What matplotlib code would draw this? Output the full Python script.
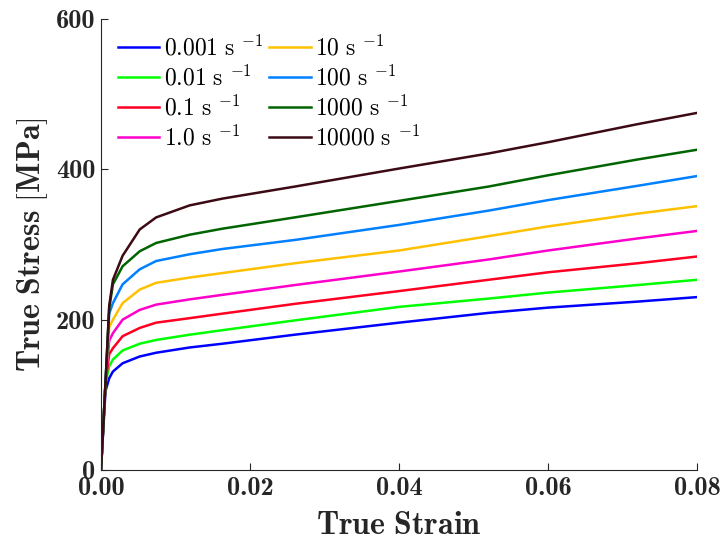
import numpy as np
import matplotlib
matplotlib.use('Agg')
import matplotlib.pyplot as plt
from matplotlib.ticker import FuncFormatter

plt.rcParams['mathtext.fontset'] = 'cm'
plt.rcParams['font.family'] = 'serif'

# Data
strain = [0, 0.0006, 0.0011, 0.0016, 0.0029, 0.0052, 0.0074, 0.0119, 0.0163,
          0.026, 0.040, 0.052, 0.060, 0.072, 0.080]

s_0001 = [0, 105, 122, 131, 142, 151, 156, 163, 168, 180, 196, 209, 216, 224, 230]
s_001 = [0, 115, 138, 147, 159, 168, 173, 180, 186, 199, 217, 228, 236, 246, 253]
s_01 = [0, 115, 154, 162, 178, 189, 196, 202, 208, 221, 238, 253, 263, 275, 284]
s_1 = [0, 115, 172, 182, 200, 213, 220, 227, 233, 246, 264, 280, 292, 308, 318]
s_10 = [0, 115, 190, 200, 222, 240, 249, 256, 262, 275, 292, 311, 324, 341, 351]
s_100 = [0, 115, 208, 222, 247, 267, 278, 287, 294, 306, 326, 345, 359, 378, 391]
s_1000 = [0, 115, 215, 247, 271, 291, 302, 313, 321, 336, 358, 377, 392, 413, 426]
s_10000 = [0, 115, 218, 253, 285, 320, 336, 352, 361, 377, 401, 421, 436, 460, 475]

labels = ['0.001', '0.01', '0.1', '1.0', '10', '100', '1000', '10000']
series = [s_0001, s_001, s_01, s_1, s_10, s_100, s_1000, s_10000]
colors = ['#0000ff', '#00ff00', '#ff0022', '#ff00cc',
          '#ffc000', '#0080ff', '#006400', '#3c0a14']

fig = plt.figure(figsize=(7.24, 5.41), dpi=100)
ax = fig.add_axes([0.1395, 0.1312, 0.8232, 0.8338])

for lab, ys, c in zip(labels, series, colors):
    ax.plot(strain, ys, color=c, lw=1.8,
            label=r'$%s\ \mathrm{s}\ ^{-1}$' % lab)

ax.set_xlim(0, 0.08)
ax.set_ylim(0, 600)
ax.set_xticks([0, 0.02, 0.04, 0.06, 0.08])
ax.set_yticks([0, 200, 400, 600])
ax.xaxis.set_major_formatter(FuncFormatter(lambda v, p: '%.2f' % v))
ax.yaxis.set_major_formatter(FuncFormatter(lambda v, p: '%d' % v))
ax.tick_params(direction='in', length=5, width=0.8, labelsize=19, colors='#262626',
               labelfontfamily='cmb10')
ax.tick_params(axis='x', pad=5)
ax.tick_params(axis='y', pad=4)
for s in ['top', 'right']:
    ax.spines[s].set_visible(False)
for s in ['left', 'bottom']:
    ax.spines[s].set_color('#262626')
    ax.spines[s].set_linewidth(0.8)

ax.set_xlabel(r'$\mathbf{True\ Strain}$', fontsize=23, color='#262626', labelpad=7)
ax.set_ylabel(r'$\mathbf{True\ Stress\ [MPa]}$', fontsize=23, color='#262626', labelpad=4)

ax.legend(loc='upper left', ncol=2, frameon=False, fontsize=17,
          handlelength=1.75, handletextpad=0.2, columnspacing=0.25,
          labelspacing=0.2, borderaxespad=0.3, bbox_to_anchor=(0.0, 1.0))

fig.savefig('out.png', dpi=100)
